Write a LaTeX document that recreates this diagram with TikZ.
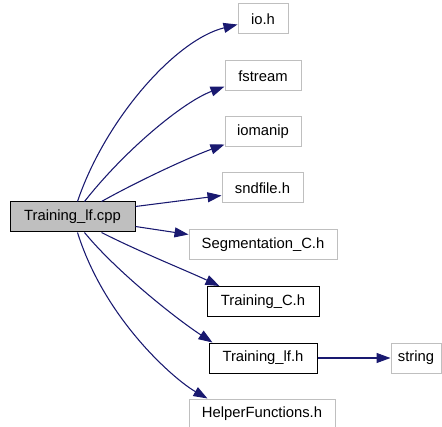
\documentclass[tikz,border=0pt]{standalone}
\usepackage{fontspec}
\setmainfont{Liberation Sans}
\usetikzlibrary{arrows.meta,calc}
\definecolor{boxgray}{HTML}{BFBFBF}
\definecolor{edgeblue}{HTML}{191970}
\begin{document}
\begin{tikzpicture}[x=0.75pt,y=-0.75pt,
  box/.style={draw=boxgray, line width=0.75pt, minimum height=22.5pt, inner sep=0pt,
    font=\fontsize{11.1pt}{13pt}\selectfont},
  docbox/.style={box, draw=black},
  edge/.style={draw=edgeblue, line width=0.8pt, -{Triangle[length=10.5pt,width=7.5pt]}}]
\useasboundingbox (0,0) rectangle (442,427);
\node[docbox, fill=boxgray, minimum width=93.75pt] (cpp) at (72.5,217) {Training\_lf.cpp};
\node[box, minimum width=37.5pt] (ioh) at (263,19) {io.h};
\node[box, minimum width=57pt] (fs) at (263,76) {fstream};
\node[box, minimum width=57pt] (im) at (263,132) {iomanip};
\node[box, minimum width=60.75pt] (sf) at (262.5,188) {sndfile.h};
\node[box, minimum width=111pt] (seg) at (263,245) {Segmentation\_C.h};
\node[docbox, minimum width=84pt] (tc) at (263,301.5) {Training\_C.h};
\node[docbox, minimum width=81pt] (tlfh) at (263,358) {Training\_lf.h};
\node[box, minimum width=37.5pt] (str) at (416,358) {string};
\node[box, minimum width=109.5pt, minimum height=21.75pt] (hf) at (262,413.5) {HelperFunctions.h};

\draw[edge] ($(cpp.north west)+(68,0)$) .. controls (105,120) and (175,40) .. ($(ioh.north west)+(0,21)$);
\draw[edge] ($(cpp.north west)+(75,0)$) .. controls (125,150) and (183,102) .. ($(fs.north west)+(0,26)$);
\draw[edge] ($(cpp.north west)+(92,0)$) .. controls (140,180) and (190,157) .. ($(im.north west)+(0,28)$);
\draw[edge] ($(cpp.north east)+(0,5)$) -- ($(sf.north west)+(0,23)$);
\draw[edge] ($(cpp.south east)+(0,-6)$) -- ($(seg.north west)+(0,5)$);
\draw[edge] ($(cpp.south west)+(92,0)$) .. controls (140,252) and (185,270) .. ($(tc.north west)+(13,0)$);
\draw[edge] ($(cpp.south west)+(75,0)$) .. controls (115,270) and (175,318) .. ($(tlfh.north west)+(4,0)$);
\draw[edge] ($(cpp.south west)+(68,0)$) .. controls (105,320) and (175,380) .. ($(hf.north west)+(19,0)$);
\draw[edge] (tlfh) -- (str);
\end{tikzpicture}
\end{document}
